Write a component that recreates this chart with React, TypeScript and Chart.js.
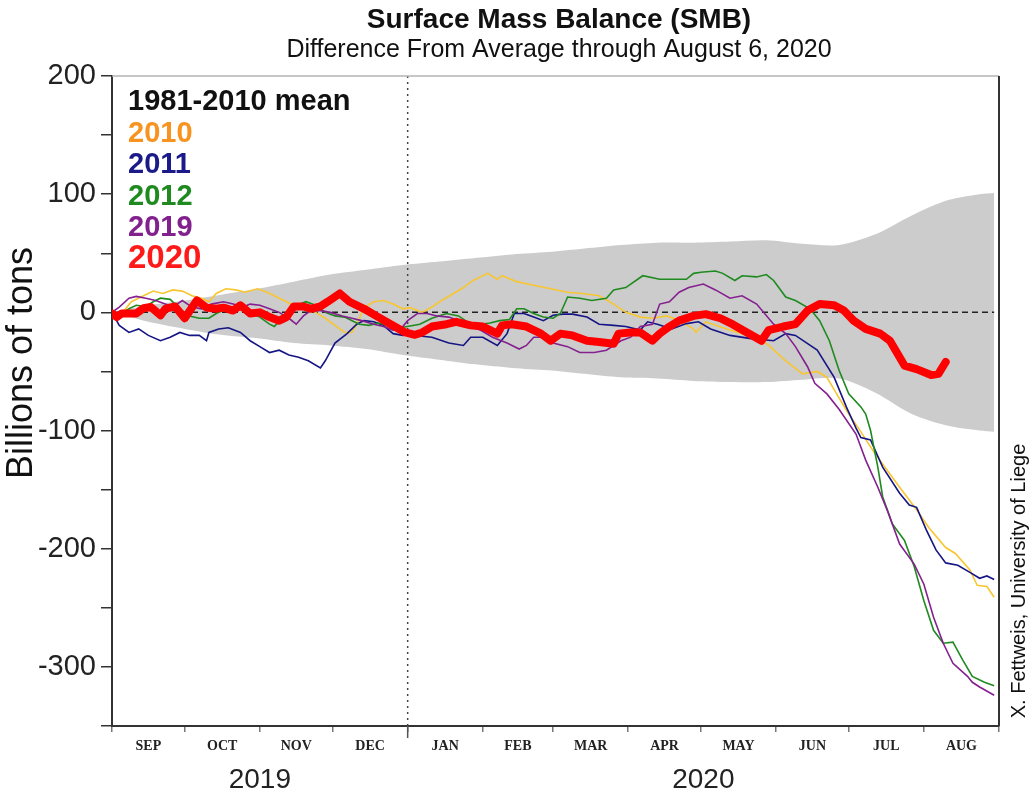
import React, { useEffect, useRef } from 'react';
import { Chart, registerables } from 'chart.js';

Chart.register(...registerables);

// ---- Axis / category data ----
const monthStarts = [0, 30, 61, 91, 122, 153, 182, 213, 243, 274, 304, 335, 366];
const monthLabels = ['SEP', 'OCT', 'NOV', 'DEC', 'JAN', 'FEB', 'MAR', 'APR', 'MAY', 'JUN', 'JUL', 'AUG'];
const yearLabels = ['2019', '2020'];
const yearSpans = [[0, 122], [122, 366]];
const newYearDay = 122;

// ---- 1981-2010 spread band (days since Sep 1) ----
const bandDays = [0, 15, 30, 45, 60, 75, 90, 105, 120, 135, 150, 165, 180, 195, 210, 225, 240, 255, 270, 285, 300, 315, 330, 345, 358, 364];
const bandUpper = [0, 6, 10, 15, 20, 26, 32, 36, 40, 43, 46, 49, 51, 54, 57, 59, 59, 60, 61, 58, 57, 66, 82, 95, 100, 101];
const bandLower = [0, -8, -14, -19, -22, -26, -28, -31, -36, -40, -44, -47, -49, -52, -55, -56, -58, -59, -59, -57, -56, -68, -86, -96, -100, -101];

// ---- mean ----
const meanDays = [0, 364];
const meanValues = [0, 0];

// ---- 2010 ----
const days2010 = [0, 4, 8, 13, 17, 21, 25, 29, 33, 37, 40, 43, 47, 51, 55, 60, 64, 68, 72, 76, 80, 84, 88, 92, 96, 99, 101, 104, 108, 112, 116, 120, 123, 128, 132, 136, 141, 145, 149, 155, 159, 161, 167, 174, 181, 188, 194, 201, 207, 212, 218, 223, 229, 234, 240, 241, 245, 249, 255, 260, 266, 271, 278, 285, 291, 295, 299, 304, 308, 314, 320, 325, 332, 337, 344, 348, 354, 357, 361, 364];
const smb2010 = [0, -1, 9, 14, 18, 16, 19, 18, 14, 12, 9, 16, 20, 19, 17, 20, 17, 13, 9, 4.5, 3, 0, -5, -11, -17, -17, -10, 4, 9, 10, 7, 3, 4, 0, 4.5, 10, 16, 21, 27, 33, 28, 31, 26, 23, 20, 17, 16, 14, 7, 0, -4, -5, -3, -7, -14, -17, -8, -11, -15, -18, -21, -28, -41, -52, -50, -55, -69, -86, -98, -117, -134, -148, -167, -182, -199, -204, -218, -231, -232, -241];

// ---- 2011 ----
const days2011 = [0, 3, 7, 11, 15, 20, 24, 28, 32, 36, 39, 40, 44, 48, 53, 57, 61, 65, 69, 73, 77, 81, 86, 88, 92, 97, 101, 104, 108, 112, 116, 120, 123, 127, 132, 139, 145, 148, 153, 159, 163, 166, 170, 174, 178, 182, 186, 190, 196, 201, 207, 212, 218, 221, 225, 231, 237, 242, 247, 255, 263, 273, 278, 282, 291, 298, 303, 307, 309, 313, 318, 325, 329, 332, 336, 340, 344, 349, 354, 358, 361, 364];
const smb2011 = [0, -11, -17, -14, -19.5, -24, -21, -17, -19.5, -19.5, -24, -17, -14, -13, -17, -24, -29, -34, -32, -36, -38, -41, -47, -41, -26, -18, -10, -7, -8, -11, -18, -19.5, -18, -20, -21, -26, -28, -21, -21, -28, -18, -1, -1, -4, -7, -2.5, -1.5, -1.5, -4, -10, -11, -12, -15, -8, -10, -14, -9.5, -8, -14, -19.5, -22, -24, -18, -19.5, -32, -55, -80, -98, -106, -108, -131, -153, -163, -165, -184, -201, -212, -214, -220, -225, -223, -226];

// ---- 2012 ----
const days2012 = [0, 4, 7, 10, 14, 17, 20, 24, 28, 32, 36, 40, 43, 47, 51, 57, 61, 65, 67, 71, 75, 80, 84, 88, 92, 96, 102, 106, 110, 114, 119, 127, 132, 138, 143, 148, 152, 156, 160, 164, 167, 170, 174, 178, 182, 185, 188, 193, 198, 204, 207, 212, 219, 226, 231, 237, 240, 243, 249, 252, 257, 260, 266, 270, 273, 278, 282, 288, 292, 296, 300, 304, 309, 311, 313, 316, 318, 322, 327, 331, 335, 339, 343, 347, 351, 355, 360, 364];
const smb2012 = [0, -1, 3, 6, 5, 9, 12, 11, 3, -3, -5, -5, -1, 3, 4, -1, -4, -10, -12, -3, 5, 9, 6, 0, -3, -4, -10, -11, -9, -11, -13, -10, -5, -1, -3, -10, -10, -9, -7, -6, 3, 3, -1, -4, -5, -1, 13, 12, 10, 12, 19, 21, 31, 28, 28, 28, 33, 34, 35, 33, 27, 31, 30, 32, 27, 13, 10, 3, -7, -24, -49, -69, -80, -86, -100, -131, -156, -179, -193, -215, -244, -269, -280, -279, -294, -308, -313, -316];

// ---- 2019 ----
const days2019 = [0, 3, 7, 10, 14, 18, 22, 25, 29, 33, 37, 41, 46, 50, 54, 57, 61, 65, 69, 73, 76, 79, 82, 86, 90, 95, 99, 103, 108, 112, 116, 120, 122, 126, 130, 134, 139, 143, 148, 152, 157, 163, 168, 171, 174, 177, 182, 188, 193, 199, 204, 210, 214, 218, 223, 226, 230, 234, 238, 244, 249, 255, 260, 266, 273, 278, 282, 287, 290, 295, 300, 307, 311, 316, 320, 325, 331, 335, 339, 343, 347, 353, 355, 358, 364];
const smb2019 = [0, 4.5, 12, 13.5, 12, 10, 7, 4.5, 10, 4.5, 3, 7, 9, 7, 4.5, 7, 6, 3, 0, -5, -10, -3, 1.5, 1.5, 0, -3, -5, -7, -10, -12, -15, -12, -7, -1, -1, -3, -4, -7, -12, -15, -21, -26, -31, -28, -21, -21, -26, -29, -34, -34, -32, -24, -21, -12, -10, 7, 9, 17, 21, 24, 19, 12, 14, 7, -10, -18, -29, -46, -60, -69, -82, -103, -125, -148, -168, -196, -213, -230, -258, -280, -297, -308, -313, -317, -324];

// ---- 2020 ----
const days2020 = [0, 2, 4, 7, 10, 13, 16, 20, 22, 26, 30, 35, 39, 43, 46, 50, 53, 57, 61, 65, 69, 72, 75, 79, 82, 86, 89, 94, 98, 104, 109, 115, 121, 125, 128, 132, 138, 142, 148, 153, 159, 161, 165, 171, 177, 181, 185, 190, 196, 201, 207, 209, 214, 218, 223, 226, 230, 234, 240, 245, 251, 256, 262, 268, 271, 277, 282, 287, 292, 298, 302, 306, 311, 317, 321, 327, 332, 338, 341, 344];
const smb2020 = [-1, -4, -1, -1, -1, 3.5, 4.5, -2.5, 3, 5, -5, 10, 4, 3, 4, 1.5, 6, -1, 0, -4, -7, -4, 5, 5, 3, 5, 9, 16, 9, 3, -3, -10, -17, -19, -17, -12, -10, -8, -11, -12, -18, -11, -10, -12, -18, -24, -18, -19.5, -24, -25, -26.5, -18, -17, -17, -24, -18, -12, -7, -3, -1.5, -5, -10, -17, -24, -15, -12, -10, 1.5, 7, 6, 1.5, -7, -14, -18, -24, -45, -48, -53, -52, -42];

const pts = (d: number[], v: number[]) => d.map((x, i) => ({ x, y: v[i] }));

const SANS = '"Liberation Sans", Arial, Helvetica, sans-serif';
const SERIF = '"Liberation Serif", "Times New Roman", serif';

const legendItems = [
  { text: '1981-2010 mean', color: '#111111', size: 29 },
  { text: '2010', color: '#f7931e', size: 29 },
  { text: '2011', color: '#1a1a8a', size: 29 },
  { text: '2012', color: '#1f8a1f', size: 29 },
  { text: '2019', color: '#82208e', size: 29 },
  { text: '2020', color: '#ff1a1a', size: 33 },
];
const legendBaselines = [110, 142, 173, 205, 236, 268];

const textPlugin = {
  id: 'smbTexts',
  afterDraw(chart: any) {
    const ctx = chart.ctx;
    const area = chart.chartArea;
    const xs = chart.scales.x;
    ctx.save();
    // top light border & right border
    ctx.strokeStyle = '#b5b5b5';
    ctx.lineWidth = 1.5;
    ctx.beginPath();
    ctx.moveTo(area.left, area.top);
    ctx.lineTo(area.right, area.top);
    ctx.stroke();
    ctx.strokeStyle = '#333333';
    ctx.lineWidth = 2;
    ctx.beginPath();
    ctx.moveTo(area.right, area.top);
    ctx.lineTo(area.right, area.bottom);
    ctx.stroke();
    // jan tick extension
    const jx = xs.getPixelForValue(newYearDay);
    ctx.strokeStyle = '#555555';
    ctx.lineWidth = 1.5;
    ctx.beginPath();
    ctx.moveTo(jx, area.bottom);
    ctx.lineTo(jx, area.bottom + 12);
    ctx.stroke();

    // titles
    ctx.fillStyle = '#111111';
    ctx.textAlign = 'center';
    ctx.textBaseline = 'middle';
    ctx.font = `bold 28px ${SANS}`;
    ctx.fillText('Surface Mass Balance (SMB)', 559, 20);
    ctx.font = `25px ${SANS}`;
    ctx.fillText('Difference From Average through August 6, 2020', 559, 50);

    // legend
    ctx.textAlign = 'left';
    ctx.textBaseline = 'alphabetic';
    legendItems.forEach((it, i) => {
      ctx.font = `bold ${it.size}px ${SANS}`;
      ctx.fillStyle = it.color;
      ctx.fillText(it.text, 128, legendBaselines[i]);
    });

    // month labels
    ctx.fillStyle = '#222222';
    ctx.textAlign = 'center';
    ctx.textBaseline = 'middle';
    ctx.font = `bold 14px ${SERIF}`;
    monthLabels.forEach((m, i) => {
      const cx = xs.getPixelForValue((monthStarts[i] + monthStarts[i + 1]) / 2);
      ctx.fillText(m, cx, 746);
    });
    // years
    ctx.font = `28px ${SANS}`;
    yearLabels.forEach((y, i) => {
      const cx = xs.getPixelForValue((yearSpans[i][0] + yearSpans[i][1]) / 2);
      ctx.fillText(y, cx, 780);
    });

    // y axis title
    ctx.save();
    ctx.translate(22, 363);
    ctx.rotate(-Math.PI / 2);
    ctx.font = `36px ${SANS}`;
    ctx.fillStyle = '#111111';
    ctx.fillText('Billions of tons', 0, 0);
    ctx.restore();

    // credit
    ctx.save();
    ctx.translate(1019, 581);
    ctx.rotate(-Math.PI / 2);
    ctx.font = `20px ${SANS}`;
    ctx.fillStyle = '#111111';
    ctx.fillText('X. Fettweis, University of Liege', 0, 0);
    ctx.restore();

    ctx.restore();
  },
};

export default function App() {
  const ref = useRef<HTMLCanvasElement | null>(null);
  useEffect(() => {
    if (!ref.current) return;
    const thin = { borderWidth: 1.6, pointRadius: 0, tension: 0, fill: false };
    const chart = new Chart(ref.current, {
      type: 'line',
      data: {
        datasets: [
          { label: 'upper', data: pts(bandDays, bandUpper), borderWidth: 0, pointRadius: 0, backgroundColor: '#cccccc', borderColor: 'rgba(0,0,0,0)', fill: '+1', order: 9, tension: 0.3 },
          { label: 'lower', data: pts(bandDays, bandLower), borderWidth: 0, pointRadius: 0, borderColor: 'rgba(0,0,0,0)', fill: false, order: 8, tension: 0.3 },
          { label: 'jan', data: [{ x: newYearDay, y: 200 }, { x: newYearDay, y: -350 }], borderColor: '#444444', borderWidth: 1.5, borderDash: [2, 4], pointRadius: 0, fill: false, order: 7 },
          { label: '1981-2010 mean', data: pts(meanDays, meanValues), borderColor: '#222222', borderWidth: 1.5, borderDash: [6, 4], pointRadius: 0, fill: false, order: 6 },
          { label: '2010', data: pts(days2010, smb2010), borderColor: '#f8c630', ...thin, order: 5 },
          { label: '2011', data: pts(days2011, smb2011), borderColor: '#151585', ...thin, order: 4 },
          { label: '2012', data: pts(days2012, smb2012), borderColor: '#1f8a1f', ...thin, order: 3 },
          { label: '2019', data: pts(days2019, smb2019), borderColor: '#85208f', ...thin, order: 2 },
          { label: '2020', data: pts(days2020, smb2020), borderColor: '#ff0000', borderWidth: 8, pointRadius: 0, tension: 0, fill: false, borderJoinStyle: 'round', borderCapStyle: 'round', order: 1 },
        ] as any,
      },
      options: {
        animation: false,
        responsive: true,
        maintainAspectRatio: false,
        layout: { padding: { top: 76, right: 32, left: 0, bottom: 0 } },
        plugins: { legend: { display: false }, tooltip: { enabled: false }, title: { display: false } },
        scales: {
          x: {
            type: 'linear',
            min: 0,
            max: 366,
            afterBuildTicks: (s: any) => { s.ticks = monthStarts.map((v) => ({ value: v })); },
            afterFit: (s: any) => { s.height = 74; },
            ticks: { callback: () => '', autoSkip: false, maxRotation: 0 },
            grid: { drawOnChartArea: false, drawTicks: true, tickLength: 6, color: '#777777', lineWidth: 1.5 },
            border: { display: true, color: '#333333', width: 2 },
          },
          y: {
            min: -350,
            max: 200,
            afterBuildTicks: (s: any) => {
              const t = [];
              for (let v = -350; v <= 200; v += 50) t.push({ value: v });
              s.ticks = t;
            },
            afterFit: (s: any) => { s.width = 112; },
            ticks: {
              autoSkip: false,
              padding: 5,
              color: '#222222',
              font: { family: SANS, size: 29 },
              callback: (v: any) => (Number(v) % 100 === 0 ? String(v) : ''),
            },
            grid: { drawOnChartArea: false, drawTicks: true, tickLength: 11, color: '#333333', lineWidth: 1.5 },
            border: { display: true, color: '#333333', width: 2 },
          },
        },
      } as any,
      plugins: [textPlugin],
    });
    return () => chart.destroy();
  }, []);
  return (
    <div style={{ position: 'fixed', left: 0, top: 0, width: 1031, height: 800, background: '#ffffff' }}>
      <canvas ref={ref} />
    </div>
  );
}
